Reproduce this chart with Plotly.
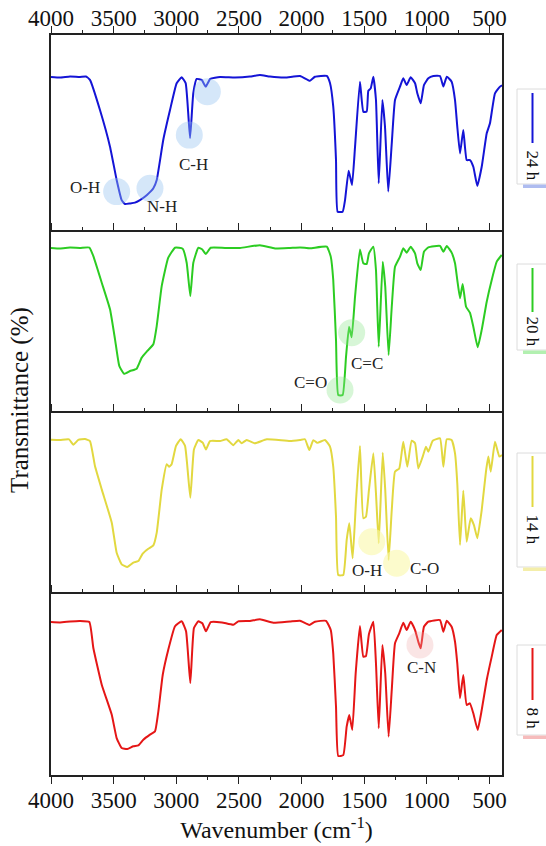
import plotly.graph_objects as go

# FTIR spectra: wavenumber (cm-1) and transmittance (%) for each reaction time
wn_24h = [4000, 3928, 3848, 3769, 3721, 3689, 3609, 3529, 3476, 3436, 3409, 3369, 3330, 3290, 3234, 3183,
          3156, 3104, 3050, 2997, 2957, 2925, 2890, 2864, 2837, 2797, 2765, 2729, 2651, 2531, 2412, 2332,
          2252, 2132, 2012, 1933, 1893, 1799, 1773, 1747, 1725, 1712, 1672, 1653, 1624, 1597, 1573, 1534,
          1507, 1480, 1467, 1448, 1427, 1406, 1384, 1355, 1334, 1308, 1280, 1254, 1214, 1188, 1161, 1129,
          1094, 1076, 1049, 1023, 988, 948, 895, 868, 841, 802, 775, 757, 735, 709, 682, 656, 629, 597,
          562, 522, 496, 456, 416, 400]
t_24h = [78.7, 78.4, 78.9, 78.7, 78.9, 77.2, 61.9, 43.3, 26.4, 16.2, 14.2, 14.5, 14.9, 16.2, 18.8, 22.2,
         26.4, 46.7, 61.9, 75.5, 78.5, 75.6, 47.7, 70.6, 77.7, 77.2, 73.8, 77.7, 78.7, 78.4, 78.9, 79.7,
         78.9, 78.4, 79.2, 76.8, 78.8, 79.2, 75.6, 63.6, 36.5, 10.3, 10.3, 16.2, 31.1, 23.9, 43.3, 76.3,
         61.1, 61.1, 71.7, 72.9, 78.8, 67.0, 24.7, 67.0, 53.5, 20.5, 45.0, 67.0, 73.8, 78.0, 74.6, 78.5,
         75.5, 70.4, 65.3, 74.6, 78.0, 79.2, 79.2, 73.8, 78.8, 76.3, 67.0, 53.5, 39.9, 51.8, 36.5, 36.5,
         33.1, 23.4, 33.1, 50.1, 55.2, 70.4, 73.8, 74.5]

wn_20h = [4000, 3928, 3848, 3769, 3694, 3662, 3595, 3529, 3489, 3455, 3417, 3369, 3316, 3276, 3231, 3183,
          3156, 3116, 3064, 3010, 2949, 2917, 2888, 2864, 2824, 2792, 2765, 2725, 2611, 2491, 2332, 2212,
          2092, 2012, 1933, 1799, 1767, 1747, 1725, 1707, 1672, 1645, 1621, 1600, 1573, 1534, 1507, 1480,
          1462, 1427, 1406, 1384, 1352, 1332, 1305, 1280, 1254, 1214, 1188, 1161, 1129, 1094, 1076, 1049,
          1023, 988, 895, 868, 841, 802, 775, 757, 735, 714, 687, 656, 629, 594, 562, 522, 482, 442, 402]
t_20h = [91.2, 90.9, 91.4, 91.2, 91.4, 86.7, 72.0, 57.3, 40.7, 26.0, 21.7, 23.2, 24.5, 30.6, 34.3, 38.0,
         48.1, 70.2, 85.8, 91.3, 90.8, 83.0, 64.6, 83.0, 91.3, 90.3, 87.8, 91.3, 91.2, 91.2, 92.7, 90.9,
         91.2, 91.5, 91.0, 91.9, 86.4, 73.5, 40.3, 9.9, 9.9, 31.1, 47.7, 41.8, 64.3, 90.4, 82.7, 82.3,
         88.2, 91.9, 79.0, 36.6, 83.6, 69.8, 32.0, 58.7, 80.8, 86.4, 91.0, 88.6, 91.9, 88.2, 82.7, 79.0,
         89.1, 91.5, 92.3, 89.1, 92.3, 88.6, 82.7, 73.5, 63.4, 71.3, 58.7, 55.4, 47.7, 36.3, 45.9, 61.5,
         73.5, 83.6, 87.3]

wn_14h = [4000, 3928, 3856, 3822, 3782, 3729, 3689, 3649, 3595, 3515, 3476, 3436, 3391, 3343, 3303, 3268,
          3223, 3183, 3156, 3116, 3076, 3056, 3037, 3002, 2965, 2930, 2888, 2859, 2824, 2789, 2763, 2731,
          2651, 2598, 2545, 2505, 2478, 2438, 2372, 2278, 2092, 2012, 1973, 1938, 1906, 1874, 1813, 1773,
          1747, 1725, 1707, 1667, 1640, 1619, 1592, 1565, 1534, 1507, 1486, 1462, 1427, 1406, 1384, 1352,
          1332, 1305, 1280, 1254, 1220, 1188, 1156, 1121, 1094, 1068, 1033, 1007, 988, 953, 895, 868,
          841, 802, 775, 757, 735, 709, 682, 650, 624, 597, 562, 528, 509, 490, 456, 421, 400]
t_14h = [85.2, 85.1, 85.4, 82.5, 85.1, 85.6, 84.5, 70.7, 57.8, 39.4, 22.8, 16.4, 14.9, 17.3, 18.2, 22.3,
         25.0, 26.9, 33.9, 57.8, 71.7, 70.3, 71.7, 81.8, 85.5, 81.8, 53.2, 79.9, 85.1, 83.6, 79.9, 84.5,
         84.5, 85.5, 82.2, 85.1, 83.3, 85.1, 83.3, 85.5, 84.5, 85.1, 85.5, 79.6, 85.0, 83.5, 85.1, 81.4,
         70.3, 42.7, 10.5, 10.5, 29.8, 39.1, 19.7, 51.9, 81.8, 41.8, 42.7, 57.5, 77.7, 55.6, 28.0, 78.1,
         57.5, 18.8, 46.4, 67.6, 69.4, 84.1, 70.3, 84.7, 83.3, 69.4, 75.9, 81.4, 78.6, 84.7, 86.0, 70.3,
         85.5, 85.1, 77.7, 61.2, 27.1, 57.1, 28.9, 41.8, 38.1, 30.8, 46.4, 67.6, 75.9, 67.6, 84.1, 75.9,
         76.8]

wn_8h = [4000, 3928, 3848, 3769, 3694, 3662, 3595, 3515, 3476, 3436, 3391, 3343, 3303, 3263, 3210, 3170,
         3143, 3108, 3064, 3010, 2957, 2922, 2888, 2859, 2824, 2792, 2763, 2725, 2635, 2545, 2505, 2412,
         2332, 2226, 2092, 2012, 1938, 1893, 1805, 1767, 1747, 1725, 1707, 1667, 1640, 1619, 1595, 1568,
         1534, 1507, 1486, 1462, 1427, 1406, 1384, 1355, 1332, 1305, 1280, 1254, 1220, 1188, 1161, 1129,
         1094, 1068, 1049, 1023, 988, 895, 868, 841, 802, 775, 757, 735, 709, 682, 656, 629, 594, 562,
         522, 482, 442, 402]
t_8h = [84.5, 84.3, 84.8, 85.1, 84.5, 70.2, 49.9, 33.3, 20.4, 14.9, 14.4, 15.9, 16.4, 19.5, 22.3, 24.1,
        35.2, 55.4, 69.2, 82.2, 84.9, 79.4, 50.8, 81.2, 84.9, 83.8, 79.4, 84.5, 84.3, 83.0, 84.9, 85.1,
        86.0, 84.1, 84.8, 85.2, 82.9, 84.7, 85.2, 80.1, 67.2, 37.7, 10.5, 11.0, 26.7, 33.1, 24.9, 56.2,
        82.3, 65.4, 65.7, 77.9, 84.7, 61.7, 25.8, 71.8, 56.2, 21.2, 47.0, 72.8, 78.3, 84.1, 80.1, 84.7,
        80.1, 73.6, 70.0, 81.9, 84.7, 85.6, 79.2, 85.2, 81.9, 73.6, 61.7, 42.4, 55.2, 38.7, 39.6, 34.1,
        24.9, 35.9, 52.5, 65.4, 77.3, 80.1]

# band assignments: highlight position (wn, T) and label position (wn, T)
bands_24h = [("O-H", 3476, 20.5, 3729, 22.5), ("N-H", 3210, 22.2, 3116, 12.8),
             ("C-H", 2896, 49.2, 2864, 34.5), ("", 2752, 71.2, None, None)]
bands_20h = [("C=C", 1600, 44.4, 1480, 27.5), ("C=O", 1693, 12.7, 1925, 16.6)]
bands_14h = [("O-H", 1440, 28.9, 1480, 12.9), ("C-O", 1241, 17.0, 1015, 14.2)]
bands_8h = [("C-N", 1055, 71.8, 1041, 59.5)]

x_ticks = [4000, 3500, 3000, 2500, 2000, 1500, 1000, 500]

panels = [
    dict(name="24 h", wn=wn_24h, t=t_24h, bands=bands_24h, color="#1414d6",
         halo="rgba(150,195,240,0.40)", bar="#aebcf0"),
    dict(name="20 h", wn=wn_20h, t=t_20h, bands=bands_20h, color="#2ccc22",
         halo="rgba(140,230,140,0.35)", bar="#b2f0b0"),
    dict(name="14 h", wn=wn_14h, t=t_14h, bands=bands_14h, color="#e2d840",
         halo="rgba(250,248,170,0.60)", bar="#f4eeaa"),
    dict(name="8 h", wn=wn_8h, t=t_8h, bands=bands_8h, color="#e51616",
         halo="rgba(240,170,170,0.30)", bar="#f6bcbc"),
]

W, H = 546, 846
ML, MR, MT, MB = 51, 44, 35, 71
PW, PH = W - ML - MR, H - MT - MB
edges = [35, 232, 413, 594, 775]          # panel borders in page pixels
FONT = "Liberation Serif"


def paper_x(px):
    return (px - ML) / PW


def paper_y(py):
    return (MT + PH - py) / PH


fig = go.Figure()
layout = dict(width=W, height=H, margin=dict(l=ML, r=MR, t=MT, b=MB, autoexpand=False),
              plot_bgcolor="white", paper_bgcolor="white", showlegend=False,
              font=dict(family=FONT, size=20, color="#111"))
annotations, shapes = [], []

for i, p in enumerate(panels):
    k = "" if i == 0 else str(i + 1)
    xa, ya = "x" + k, "y" + k
    fig.add_trace(go.Scatter(x=p["wn"], y=p["t"], mode="lines", name=p["name"],
                             line=dict(color=p["color"], width=2, shape="spline", smoothing=0.4),
                             xaxis=xa, yaxis=ya, hoverinfo="skip"))
    fig.add_trace(go.Scatter(x=[b[1] for b in p["bands"]], y=[b[2] for b in p["bands"]],
                             mode="markers", marker=dict(size=27, color=p["halo"], line=dict(width=0)),
                             xaxis=xa, yaxis=ya, hoverinfo="skip"))
    for label, _, _, lx, ly in p["bands"]:
        if label:
            annotations.append(dict(text=label, x=lx, y=ly, xref=xa, yref=ya, showarrow=False,
                                    font=dict(size=17, family=FONT, color="#222")))

    top, bot = edges[i], edges[i + 1]
    xaxis = dict(range=[4000, 400], tickvals=x_ticks, ticks="outside", ticklen=7, tickwidth=1.3,
                 tickcolor="#222", showline=True, linecolor="#222", linewidth=1.5, showgrid=False,
                 zeroline=False, anchor=ya, automargin=False,
                 tickfont=dict(size=23, family=FONT, color="#111"),
                 minor=dict(dtick=250, ticks="outside", ticklen=3.5, tickwidth=1.2, tickcolor="#222"))
    if i < 3:
        # each upper panel draws only its top edge; the panel below closes it
        xaxis.update(side="top", mirror=False, showticklabels=(i == 0), ticklabelstandoff=-9)
    else:
        xaxis.update(side="bottom", mirror="ticks", showticklabels=True, ticklabelstandoff=-3,
                     title=dict(text="Wavenumber (cm<sup>-1</sup>)", font=dict(size=24, family=FONT),
                                standoff=0))
    if i > 0:
        xaxis["matches"] = "x"
    yaxis = dict(domain=[paper_y(bot), paper_y(top)], range=[0, 100], showline=True, mirror=True,
                 linecolor="#222", linewidth=1.5, ticks="", showticklabels=False, showgrid=False,
                 zeroline=False, anchor=xa, automargin=False)
    layout["xaxis" + k] = xaxis
    layout["yaxis" + k] = yaxis

# side keys: framed box, vertical line sample, rotated label, coloured strip beneath
key_boxes = [(89, 184, 93, 143, 165), (264, 350, 268, 312, 331),
             (453, 567, 456, 507, 529), (645, 735, 648, 700, 718)]
for p, (b_top, b_bot, l_top, l_bot, t_mid) in zip(panels, key_boxes):
    shapes.append(dict(type="rect", xref="paper", yref="paper", x0=paper_x(517), x1=paper_x(552),
                       y0=paper_y(b_bot), y1=paper_y(b_top), line=dict(color="#dcdcdc", width=1)))
    shapes.append(dict(type="line", xref="paper", yref="paper", x0=paper_x(532.5), x1=paper_x(532.5),
                       y0=paper_y(l_bot), y1=paper_y(l_top), line=dict(color=p["color"], width=2)))
    shapes.append(dict(type="rect", xref="paper", yref="paper", x0=paper_x(523), x1=paper_x(552),
                       y0=paper_y(b_bot + 4), y1=paper_y(b_bot + 0.5), line=dict(width=0),
                       fillcolor=p["bar"]))
    annotations.append(dict(text=p["name"], x=paper_x(532.5), y=paper_y(t_mid), xref="paper",
                            yref="paper", showarrow=False, textangle=90, xanchor="center",
                            yanchor="middle", font=dict(size=17, family=FONT, color="#111")))

annotations.append(dict(text="Transmittance (%)", x=paper_x(20), y=paper_y(400), xref="paper",
                        yref="paper", showarrow=False, textangle=-90, xanchor="center",
                        yanchor="middle", font=dict(size=25, family=FONT, color="#111")))

layout["annotations"] = annotations
layout["shapes"] = shapes
fig.update_layout(**layout)
fig.write_html("out.html")
